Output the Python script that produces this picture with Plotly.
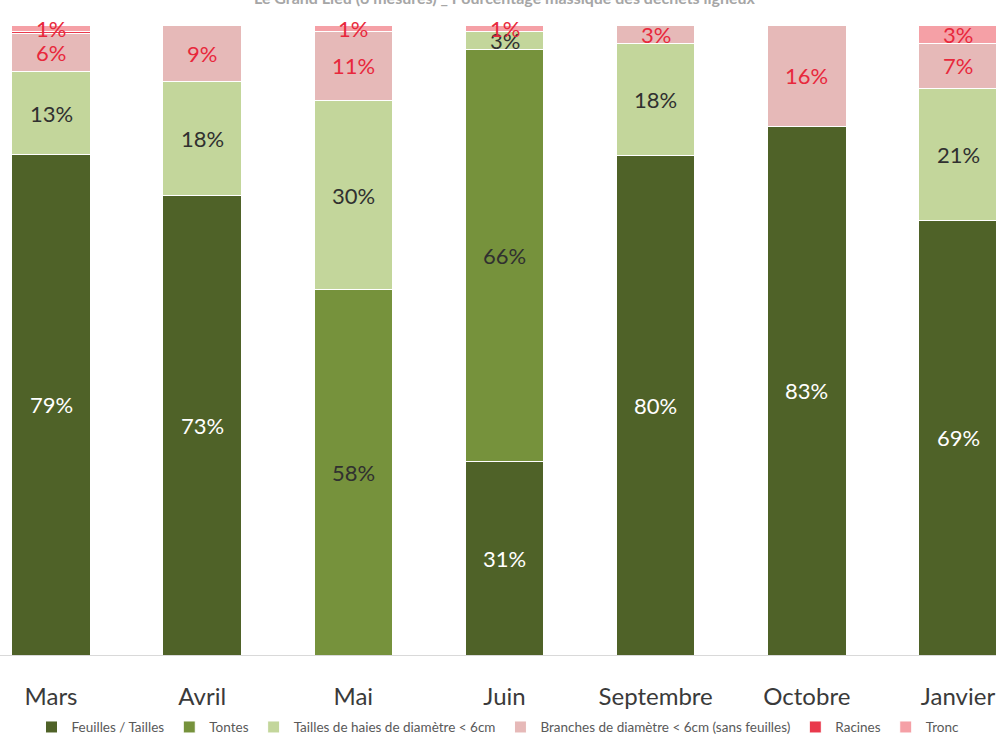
import plotly.graph_objects as go

mois = ["Mars", "Avril", "Mai", "Juin", "Septembre", "Octobre", "Janvier"]

feuilles = [79, 73, 0, 31, 80, 83, 69]
tontes = [0, 0, 58, 66, 0, 0, 0]
haies = [13, 18, 30, 3, 18, 0, 21]
branches = [6, 9, 11, 0, 3, 16, 7]
racines = [0.4, 0, 0, 0, 0, 0, 0]
tronc = [1, 0, 1, 1, 0, 0, 3]

series = [
    ("Feuilles / Tailles", feuilles, "#4f6228", "#ffffff"),
    ("Tontes", tontes, "#76923c", "#303030"),
    ("Tailles de haies de diamètre < 6cm", haies, "#c3d69b", "#303030"),
    ("Branches de diamètre < 6cm (sans feuilles)", branches, "#e6b9b8", "#e8283c"),
    ("Racines", racines, "#e9394c", "#f08080"),
    ("Tronc", tronc, "#f5a0a6", "#e8283c"),
]

FONT = "Lato"
fig = go.Figure()
for name, vals, color, tcolor in series:
    fig.add_trace(go.Bar(
        name=name, x=mois, y=vals,
        marker=dict(color=color, line=dict(color="#ffffff", width=1)),
        width=0.52, hoverinfo="x+y+name",
    ))

# data labels centred in each (normalised) segment
totals = [sum(s[1][i] for s in series) for i in range(len(mois))]
base = [0.0] * len(mois)
for name, vals, color, tcolor in series:
    for i, v in enumerate(vals):
        if round(v) > 0:
            yc = (base[i] + v / 2) / totals[i] * 100
            fig.add_annotation(
                x=mois[i], y=yc, text=f"{round(v)}%", showarrow=False,
                xanchor="center", yanchor="middle",
                font=dict(size=22, color=tcolor, family=FONT),
            )
        base[i] += v

n = len(mois)
fig.update_layout(
    barmode="stack", barnorm="percent",
    width=996, height=743,
    margin=dict(l=0, r=0, t=25, b=82),
    plot_bgcolor="white", paper_bgcolor="white",
    showlegend=True,
    legend=dict(orientation="h", x=0.5, xanchor="center", y=-0.09, yanchor="top",
                font=dict(size=13.5, color="#595959", family=FONT),
                itemwidth=30, tracegroupgap=0, traceorder="normal",
                itemclick=False),
    font=dict(family=FONT),
)
fig.update_xaxes(
    range=[-0.3374, n - 1 + 0.2514], showgrid=False,
    showline=True, linecolor="#d9d9d9", linewidth=1,
    ticks="", tickfont=dict(size=24, color="#3a3a3a", family=FONT),
    ticklabelstandoff=20,
)
fig.update_yaxes(range=[0, 100], visible=False, showgrid=False)

fig.add_annotation(
    text="<b>Le Grand Lieu (6 mesures) _ Pourcentage massique des déchets ligneux</b>",
    xref="paper", yref="paper", x=0.507, y=(661 + 3) / 636,
    xanchor="center", yanchor="middle", showarrow=False,
    font=dict(size=16, color="#a6a6a6", family=FONT),
)

fig.write_html("out.html")
